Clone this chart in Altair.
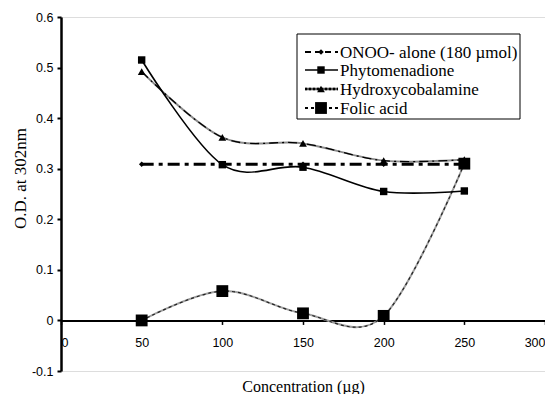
import altair as alt
import pandas as pd

conc = [50, 100, 150, 200, 250]
onoo = [0.309, 0.309, 0.309, 0.309, 0.309]
phyto = [0.515, 0.308, 0.303, 0.255, 0.256]
hydroxy = [0.492, 0.362, 0.350, 0.316, 0.318]
folic = [0.0, 0.058, 0.014, 0.009, 0.310]

series_names = ["ONOO- alone (180 µmol)", "Phytomenadione", "Hydroxycobalamine", "Folic acid"]
y_ticks = [-0.1, 0, 0.1, 0.2, 0.3, 0.4, 0.5, 0.6]
x_ticks = [0, 50, 100, 150, 200, 250, 300]

W, H = 484, 354
SERIF = "Liberation Serif"
SANS = "Liberation Sans"

def df(vals):
    return pd.DataFrame({"x": conc, "y": vals})

xs = alt.Scale(domain=[0, 300], nice=False, zero=False)
ys = alt.Scale(domain=[-0.1, 0.6], nice=False, zero=False)

x_axis = alt.Axis(
    values=x_ticks, grid=False, offset=-(H * 0.1 / 0.7),
    domainColor="black", domainWidth=2, tickColor="black", tickWidth=1.5, tickSize=4,
    labelFont=SANS, labelFontSize=12.5, labelColor="black", labelPadding=12,
    title="Concentration (µg)", titleFont=SERIF, titleFontSize=16, titleFontWeight="normal",
    titleColor="black", titleY=58, titleBaseline="top",
)
y_axis = alt.Axis(
    values=y_ticks, grid=False,
    domainColor="black", domainWidth=2.5, tickColor="black", tickWidth=2, tickSize=4,
    labelFont=SANS, labelFontSize=12.5, labelColor="black", labelPadding=4,
    labelExpr="replace(format(datum.value, '.1~f'), '\u2212', '-')",
    title="O.D. at 302nm", titleFont=SERIF, titleFontSize=17, titleFontWeight="normal",
    titleColor="black", titleX=-41, titleY=161, titleBaseline="middle",
)

X = alt.X("x:Q", scale=xs, axis=x_axis)
Y = alt.Y("y:Q", scale=ys, axis=y_axis)
Xn = alt.X("x:Q", scale=xs)
Yn = alt.Y("y:Q", scale=ys)

layers = []
layers.append(alt.Chart(df(onoo)).mark_point(opacity=0).encode(x=X, y=Y))

# Hydroxycobalamine
layers.append(alt.Chart(df(hydroxy)).mark_line(interpolate="cardinal", color="#8c8c8c", strokeWidth=2).encode(x=Xn, y=Yn))
layers.append(alt.Chart(df(hydroxy)).mark_line(interpolate="cardinal", color="black", strokeWidth=1.3, strokeDash=[9, 4, 2, 4]).encode(x=Xn, y=Yn))
# Folic acid
layers.append(alt.Chart(df(folic)).mark_line(interpolate="cardinal", color="#a0a0a0", strokeWidth=2).encode(x=Xn, y=Yn))
layers.append(alt.Chart(df(folic)).mark_line(interpolate="cardinal", color="#222", strokeWidth=1.2, strokeDash=[3, 3]).encode(x=Xn, y=Yn))
# Phytomenadione
layers.append(alt.Chart(df(phyto)).mark_line(interpolate="cardinal", color="black", strokeWidth=1.6).encode(x=Xn, y=Yn))
# ONOO
layers.append(alt.Chart(df(onoo)).mark_line(color="black", strokeWidth=3, strokeDash=[12, 5, 4, 5]).encode(x=Xn, y=Yn))

# markers
layers.append(alt.Chart(df(onoo)).mark_point(shape="diamond", filled=True, color="black", size=30, opacity=1).encode(x=Xn, y=Yn))
layers.append(alt.Chart(df(phyto)).mark_point(shape="square", filled=True, color="black", size=55, opacity=1).encode(x=Xn, y=Yn))
layers.append(alt.Chart(df(hydroxy)).mark_point(shape="triangle-up", filled=True, color="black", size=60, opacity=1).encode(x=Xn, y=Yn))
layers.append(alt.Chart(df(folic)).mark_point(shape="square", filled=True, color="black", size=140, opacity=1).encode(x=Xn, y=Yn))

# legend (manual)
leg_df = pd.DataFrame({"name": series_names})
layers.append(alt.Chart(leg_df.head(1)).mark_rect(fill="white", stroke="black", strokeWidth=1).encode(
    x=alt.value(236), x2=alt.value(459), y=alt.value(17), y2=alt.value(102)))
rows = [35, 53, 72, 91]
lx1, lx2, lmx, ltx = 244, 277, 260, 279
styles = [
    [dict(color="black", strokeWidth=2, strokeDash=[6, 4])],
    [dict(color="black", strokeWidth=1.6)],
    [dict(color="#555", strokeWidth=2.5), dict(color="black", strokeWidth=2.5, strokeDash=[2, 2])],
    [dict(color="white", strokeWidth=1), dict(color="black", strokeWidth=2, strokeDash=[3, 3])],
]
marks = [("diamond", 30), ("square", 55), ("triangle-up", 60), ("square", 140)]
for i, name in enumerate(series_names):
    d = leg_df.iloc[[i]]
    for st in styles[i]:
        layers.append(alt.Chart(d).mark_rule(**st).encode(
            x=alt.value(lx1), x2=alt.value(lx2), y=alt.value(rows[i])))
    layers.append(alt.Chart(d).mark_point(shape=marks[i][0], size=marks[i][1], filled=True, color="black", opacity=1).encode(
        x=alt.value(lmx), y=alt.value(rows[i])))
    layers.append(alt.Chart(d).mark_text(align="left", baseline="middle", font=SERIF, fontSize=17, color="black").encode(
        x=alt.value(ltx), y=alt.value(rows[i] + 1), text="name:N"))

chart = alt.layer(*layers).properties(
    width=W, height=H,
    autosize=alt.AutoSizeParams(type="none"),
    padding={"left": 53, "top": 9, "right": 0, "bottom": 23},
).configure_view(stroke="#555", strokeWidth=1).configure(background="white")

chart.save("out.html", embed_options={"renderer": "svg", "actions": False})
